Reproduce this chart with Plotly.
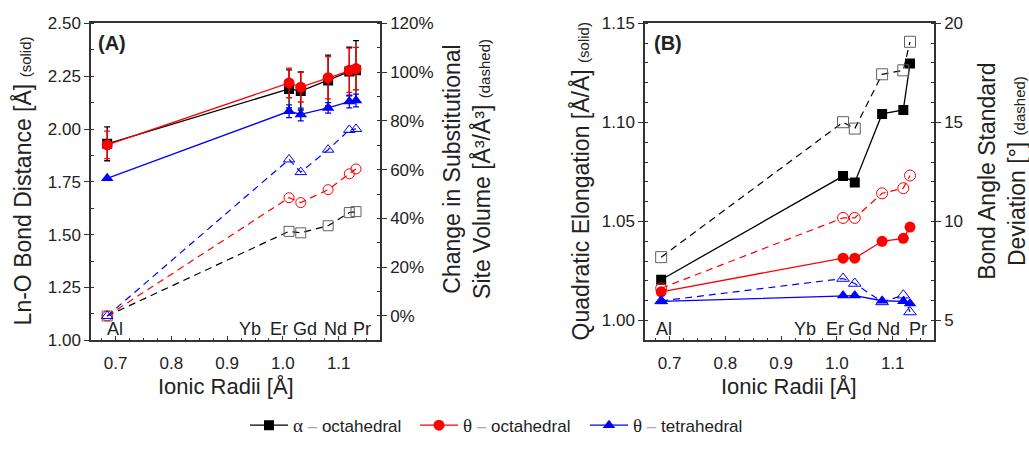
import plotly.graph_objects as go

# Ionic radii (Å) for Al, Er, Gd, Nd, Pr (two Pr sites)
ionic_radii = [0.685, 1.011, 1.032, 1.081, 1.119, 1.131]

# (A) Ln-O bond distance [Å] with uncertainties (solid)
alpha_oct_dist = [1.930, 2.190, 2.180, 2.230, 2.272, 2.278]
alpha_oct_err = [0.080, 0.090, 0.090, 0.120, 0.115, 0.140]
theta_oct_dist = [1.925, 2.218, 2.198, 2.243, 2.278, 2.286]
theta_oct_err = [0.065, 0.070, 0.070, 0.100, 0.105, 0.100]
theta_tet_dist = [1.767, 2.084, 2.069, 2.100, 2.130, 2.135]
theta_tet_err = [0.000, 0.030, 0.030, 0.025, 0.030, 0.030]

# (A) change in substitutional site volume [%] (dashed)
alpha_oct_vol = [0.0, 34.7, 34.1, 37.0, 42.4, 42.8]
theta_oct_vol = [0.0, 48.5, 46.5, 51.8, 58.3, 60.3]
theta_tet_vol = [0.0, 64.2, 59.0, 68.2, 76.3, 76.7]

# (B) quadratic elongation [Å/Å] (solid)
alpha_oct_qe = [1.0206, 1.0729, 1.0697, 1.1043, 1.1063, 1.1298]
theta_oct_qe = [1.0145, 1.0315, 1.0315, 1.0400, 1.0415, 1.0472]
theta_tet_qe = [1.0097, 1.0126, 1.0126, 1.0100, 1.0097, 1.0086]

# (B) bond angle standard deviation [°] (dashed)
alpha_oct_bas = [8.20, 15.01, 14.69, 17.43, 17.63, 19.07]
theta_oct_bas = [6.63, 10.18, 10.18, 11.42, 11.68, 12.32]
theta_tet_bas = [5.99, 7.12, 6.87, 5.94, 6.28, 5.43]

element_labels = ["Al", "Yb", "Er", "Gd", "Nd", "Pr"]
series_names = ["α", "θ", "θ"]
site_names = ["octahedral", "octahedral", "tetrahedral"]

W, H = 1029, 449
FONT = "Arial, Liberation Sans, sans-serif"
AX = "#333333"
TXT = "#222222"
BLACK, RED, BLUE = "#000000", "#ff0000", "#0000ff"
OPEN_BLACK = "#606060"
DASH = "7px,5px"
X_RANGE = [0.656, 1.174]


def px_x(p):
    return p / W


def px_y(p):
    return (H - p) / H


def legend_name(sym, site):
    return (f"<span style='font-family:Liberation Serif, serif;font-size:19px'>{sym}</span>"
            f" <span style='color:#aaaaaa'>–</span> {site}")


fig = go.Figure()

solid_A = [(alpha_oct_dist, alpha_oct_err, BLACK, "square"),
           (theta_oct_dist, theta_oct_err, RED, "circle"),
           (theta_tet_dist, theta_tet_err, BLUE, "triangle-up")]
dashed_A = [(alpha_oct_vol, OPEN_BLACK, BLACK, "square-open"),
            (theta_oct_vol, RED, RED, "circle-open"),
            (theta_tet_vol, BLUE, BLUE, "triangle-up-open")]
solid_B = [(alpha_oct_qe, BLACK, "square"),
           (theta_oct_qe, RED, "circle"),
           (theta_tet_qe, BLUE, "triangle-up")]
dashed_B = [(alpha_oct_bas, OPEN_BLACK, BLACK, "square-open"),
            (theta_oct_bas, RED, RED, "circle-open"),
            (theta_tet_bas, BLUE, BLUE, "triangle-up-open")]

# Panel A, dashed volume change on the right axis
for vals, mcol, lcol, sym in dashed_A:
    fig.add_trace(go.Scatter(
        x=ionic_radii, y=[v / 100 for v in vals], xaxis="x", yaxis="y2",
        mode="lines+markers", showlegend=False,
        line=dict(color=lcol, width=1.2, dash=DASH),
        marker=dict(symbol=sym, size=10, color=mcol, line=dict(width=1, color=mcol))))

# Panel A, solid bond distances with error bars
for i, (vals, err, col, sym) in enumerate(solid_A):
    fig.add_trace(go.Scatter(
        x=ionic_radii, y=vals, xaxis="x", yaxis="y",
        mode="lines+markers", name=legend_name(series_names[i], site_names[i]),
        showlegend=True,
        line=dict(color=col, width=1.3),
        marker=dict(symbol=sym, size=10 if sym == "square" else 11, color=col),
        error_y=dict(type="data", array=err, visible=True, color=col,
                     thickness=1.3, width=3)))

# Panel B, dashed bond angle deviation on the right axis
for vals, mcol, lcol, sym in dashed_B:
    fig.add_trace(go.Scatter(
        x=ionic_radii, y=vals, xaxis="x2", yaxis="y4",
        mode="lines+markers", showlegend=False,
        line=dict(color=lcol, width=1.2, dash=DASH),
        marker=dict(symbol=sym, size=11, color=mcol, line=dict(width=1, color=mcol))))

# Panel B, solid quadratic elongation
for vals, col, sym in solid_B:
    fig.add_trace(go.Scatter(
        x=ionic_radii, y=vals, xaxis="x2", yaxis="y3",
        mode="lines+markers", showlegend=False,
        line=dict(color=col, width=1.3),
        marker=dict(symbol=sym, size=10 if sym == "square" else 11, color=col)))

xdomA = [px_x(91), px_x(380)]
xdomB = [px_x(645), px_x(934)]
ydom = [px_y(346), px_y(15)]

base = dict(showline=True, linecolor=AX, linewidth=1.5, tickwidth=1.3, tickcolor=AX,
            showgrid=False, zeroline=False,
            tickfont=dict(family=FONT, size=17, color=TXT))
minor = dict(ticks="inside", ticklen=3, tickwidth=1.2, tickcolor=AX, showgrid=False)
xcommon = dict(ticks="inside", ticklen=5, ticklabelstandoff=6, tick0=0.7, dtick=0.1,
               tickformat=".1f", mirror=True, range=X_RANGE,
               minor=dict(dtick=0.025, **minor), **base)
ycommon = dict(ticks="outside", ticklen=5, **base)

fig.update_layout(
    width=W, height=H, margin=dict(l=0, r=0, t=0, b=0),
    paper_bgcolor="white", plot_bgcolor="white",
    font=dict(family=FONT, color=TXT),
    xaxis=dict(domain=xdomA, anchor="y", **xcommon),
    yaxis=dict(domain=ydom, range=[1.0, 2.5], anchor="x", tick0=1.0, dtick=0.25,
               tickformat=".2f", minor=dict(dtick=0.125, **minor), **ycommon),
    yaxis2=dict(domain=ydom, range=[-0.1, 1.2], anchor="x", overlaying="y", side="right",
                tick0=0, dtick=0.2, tickformat=".0%", minor=dict(dtick=0.1, **minor),
                **ycommon),
    xaxis2=dict(domain=xdomB, anchor="y3", **xcommon),
    yaxis3=dict(domain=ydom, range=[0.99, 1.15], anchor="x2", tick0=1.0, dtick=0.05,
                tickformat=".2f", minor=dict(dtick=0.01, **minor), **ycommon),
    yaxis4=dict(domain=ydom, range=[4, 20], anchor="x2", overlaying="y3", side="right",
                tick0=0, dtick=5, minor=dict(dtick=1, **minor), **ycommon),
    legend=dict(orientation="h", x=px_x(245), xanchor="left", y=px_y(435),
                yanchor="middle", font=dict(family=FONT, size=17, color=TXT),
                itemwidth=38, entrywidth=117, bgcolor="rgba(0,0,0,0)"),
)

ann = []


def text(x, y, s, size=17, angle=0):
    ann.append(dict(x=px_x(x), y=px_y(y), xref="paper", yref="paper", text=s,
                    showarrow=False, textangle=angle, xanchor="center", yanchor="middle",
                    font=dict(family=FONT, size=size, color=TXT)))


text(112, 35, "<b>(A)</b>", size=20)
text(668, 35, "<b>(B)</b>", size=20)
small = "<span style='font-size:15px'>{}</span>"
text(22, 180, "Ln-O Bond Distance [Å] " + small.format("(solid)"), size=23, angle=-90)
text(467, 167, "Change in Substitutional<br>Site Volume [Å³/Å³] " + small.format("(dashed)"),
     size=23, angle=-90)
text(580, 180, "Quadratic Elongation [Å/Å] " + small.format("(solid)"), size=23, angle=-90)
text(1002, 170, "Bond Angle Standard<br>Deviation [°] " + small.format("(dashed)"),
     size=23, angle=-90)
text(226, 394, "Ionic Radii [Å]", size=22)
text(789, 394, "Ionic Radii [Å]", size=22)

label_px_A = [115, 250, 279, 305, 335, 362]
label_px_B = [664, 805, 835, 860, 888, 918]
for lab, pa, pb in zip(element_labels, label_px_A, label_px_B):
    text(pa, 334, lab, size=18)
    text(pb, 334, lab, size=18)

fig.update_layout(annotations=ann)
fig.write_html("out.html")
